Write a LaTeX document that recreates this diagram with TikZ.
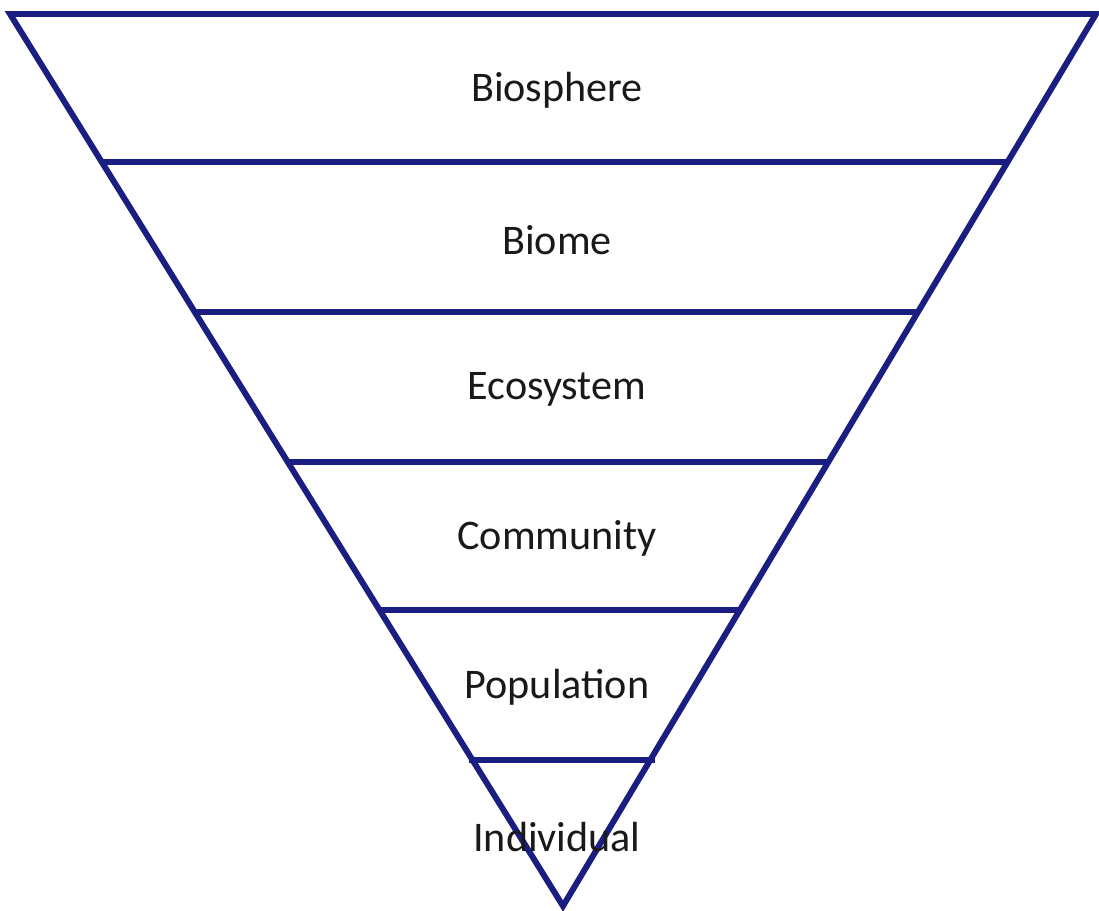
\documentclass[tikz,border=0pt]{standalone}
\usepackage{fontspec}
\setmainfont{Carlito}
\usepackage{tikz}
\usetikzlibrary{calc}
\definecolor{levelblue}{RGB}{25,30,128}
\tikzstyle{edge} = [draw=levelblue, line width=3.4pt, line join=miter]
\tikzstyle{level} = [text=black!90, font=\fontsize{24}{28}\selectfont, inner sep=0pt]

\begin{document}
\begin{tikzpicture}[x=0.02cm, y=-0.02cm]
\useasboundingbox (0,0) rectangle (1099,910);

%% Triangle corners %%
\coordinate (TopLeft) at (10,14);
\coordinate (TopRight) at (1096,14);
\coordinate (Apex) at (563,906);

%% Level borders %%
\coordinate (L1) at ($(TopLeft)!0.1655!(Apex)$);
\coordinate (R1) at ($(TopRight)!0.1655!(Apex)$);
\coordinate (L2) at ($(TopLeft)!0.3345!(Apex)$);
\coordinate (R2) at ($(TopRight)!0.3345!(Apex)$);
\coordinate (L3) at ($(TopLeft)!0.5022!(Apex)$);
\coordinate (R3) at ($(TopRight)!0.5022!(Apex)$);
\coordinate (L4) at ($(TopLeft)!0.6678!(Apex)$);
\coordinate (R4) at ($(TopRight)!0.6678!(Apex)$);
\coordinate (L5) at ($(TopLeft)!0.8367!(Apex)$);
\coordinate (R5) at ($(TopRight)!0.8367!(Apex)$);

%% Outline %%
\draw[edge] (TopLeft) -- (TopRight) -- (Apex) -- cycle;
\draw[edge] (L1) -- (R1);
\draw[edge] (L2) -- (R2);
\draw[edge] (L3) -- (R3);
\draw[edge] (L4) -- (R4);
\draw[edge, shorten <=-2pt, shorten >=-3pt] (L5) -- (R5);

%% Labels %%
\node [level] (Biosphere) at (557,90) {Biosphere};
\node [level] (Biome) at ($(Biosphere)+(0,150)$) {Biome};
\node [level] (Ecosystem) at ($(Biome)+(0,149)$) {Ecosystem};
\node [level] (Community) at ($(Ecosystem)+(0,149)$) {Community};
\node [level] (Population) at ($(Community)+(0,149)$) {Population};
\node [level] (Individual) at ($(Population)+(0,150)$) {Individual};
\end{tikzpicture}
\end{document}
